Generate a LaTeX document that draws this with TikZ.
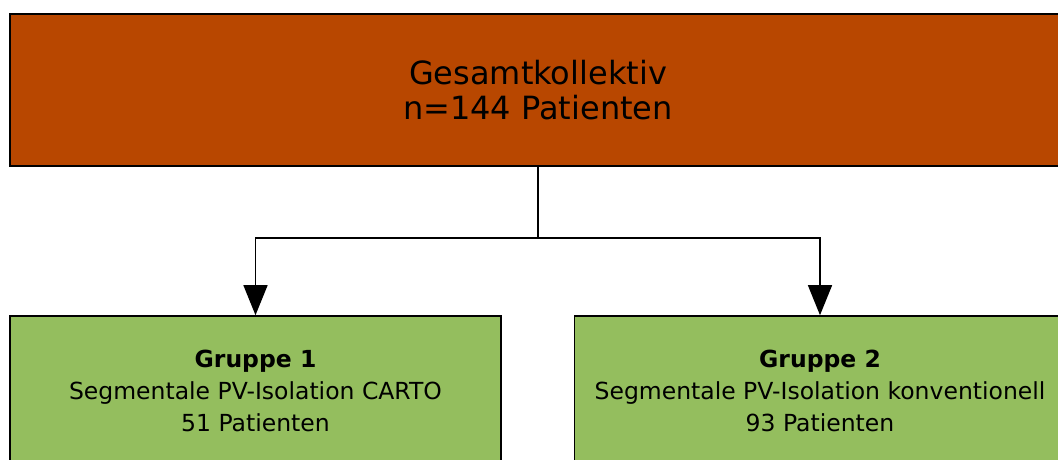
\documentclass[tikz,border=0pt]{standalone}
\usepackage{fontspec}
\setmainfont{DejaVu Sans}
\usetikzlibrary{positioning,arrows.meta}
\definecolor{rust}{HTML}{B84700}
\definecolor{leaf}{HTML}{94BE5E}

\begin{document}
\begin{tikzpicture}[x=1pt,y=-1pt,
  topbox/.style={draw=black,line width=1.6pt,fill=rust,minimum width=1056pt,minimum height=152pt,
    align=center,font=\fontsize{32}{35}\selectfont},
  grpbox/.style={draw=black,line width=1.6pt,fill=leaf,minimum width=491pt,minimum height=150pt,
    align=center,font=\fontsize{23.5}{32}\selectfont},
  link/.style={line width=1.4pt,-{Triangle[width=24pt,length=30pt]}}]

\useasboundingbox (0,0) rectangle (1058,460);
\clip (0,0) rectangle (1058,460);

\node[topbox] (all) at (538,90) {Gesamtkollektiv\\n=144 Patienten};
\node[grpbox] (g1) at (255.5,391) {\textbf{Gruppe 1}\\Segmentale PV-Isolation CARTO\\51 Patienten};
\node[grpbox] (g2) at (820,391) {\textbf{Gruppe 2}\\Segmentale PV-Isolation konventionell\\93 Patienten};

\coordinate (split) at (538,238);
\draw[line width=1.4pt] (all.south) -- (split);
\foreach \g in {g1,g2}{\draw[link] (split) -| (\g.north);}
\end{tikzpicture}
\end{document}
